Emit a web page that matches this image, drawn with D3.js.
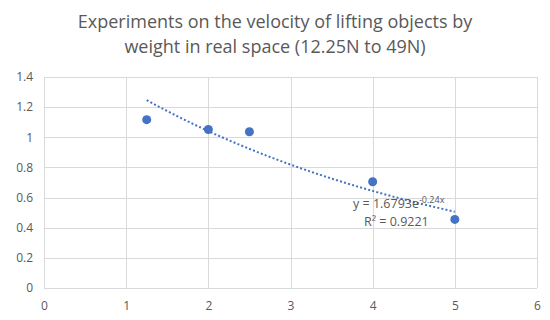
<!DOCTYPE html>
<html>
<head>
<meta charset="utf-8">
<script src="https://cdn.jsdelivr.net/npm/d3@7"></script>
<style>
  body { margin: 0; background: #fff; }
  text { font-family: "Open Sans", "Liberation Sans", sans-serif; fill: #595959; }
</style>
</head>
<body>
<div id="chart"></div>
<script>
// data
const weights = [1.25, 2, 2.5, 4, 5];
const velocities = [1.117, 1.052, 1.037, 0.705, 0.455];
const xTicks = [0, 1, 2, 3, 4, 5, 6];
const yTicks = [0, 0.2, 0.4, 0.6, 0.8, 1, 1.2, 1.4];
const titleLines = ["Experiments on the velocity of lifting objects by", "weight in real space (12.25N to 49N)"];
const trendLabel = { base: "y = 1.6793e", sup: "-0.24x", r2: "R² = 0.9221" };

const W = 550, H = 320;
const margin = { top: 77, right: 13, bottom: 32, left: 44 };
const width = W - margin.left - margin.right;
const height = H - margin.top - margin.bottom;

const svg = d3.select("#chart").append("svg")
    .attr("width", W)
    .attr("height", H);

// title
svg.append("g").selectAll("text")
    .data(titleLines)
    .enter().append("text")
    .attr("x", 275)
    .attr("y", (d, i) => 28 + i * 25)
    .attr("text-anchor", "middle")
    .style("font-size", "18px")
    .text(d => d);

const g = svg.append("g")
    .attr("transform", "translate(" + margin.left + "," + margin.top + ")");

const x = d3.scaleLinear().domain([0, 6]).range([0, width]);
const y = d3.scaleLinear().domain([0, 1.4]).range([height, 0]);

// gridlines
g.append("g").selectAll("line.h")
    .data(yTicks)
    .enter().append("line")
    .attr("x1", 0).attr("x2", width)
    .attr("y1", d => Math.round(y(d)) + 0.5).attr("y2", d => Math.round(y(d)) + 0.5)
    .attr("stroke", "#d9d9d9");
g.append("g").selectAll("line.v")
    .data(xTicks)
    .enter().append("line")
    .attr("y1", 0).attr("y2", height)
    .attr("x1", d => Math.round(x(d)) + 0.5).attr("x2", d => Math.round(x(d)) + 0.5)
    .attr("stroke", "#d9d9d9");

// axes (labels only)
const xAxis = g.append("g")
    .attr("transform", "translate(0," + height + ")")
    .call(d3.axisBottom(x).tickValues(xTicks).tickSize(0).tickPadding(13).tickFormat(d3.format("")));
const yAxis = g.append("g")
    .call(d3.axisLeft(y).tickValues(yTicks).tickSize(0).tickPadding(11).tickFormat(d3.format("")));
[xAxis, yAxis].forEach(a => {
    a.select(".domain").remove();
    a.selectAll("text").style("font-size", "12px").attr("fill", "#595959");
});

// exponential trendline fitted on ln(y)
const lx = weights, ly = velocities.map(Math.log);
const mx = d3.mean(lx), my = d3.mean(ly);
const b = d3.sum(lx, (v, i) => (v - mx) * (ly[i] - my)) / d3.sum(lx, v => (v - mx) * (v - mx));
const a = Math.exp(my - b * mx);
const xs = d3.range(0, 41).map(i => weights[0] + (weights[weights.length - 1] - weights[0]) * i / 40);
const line = d3.line().x(d => x(d)).y(d => y(a * Math.exp(b * d)));
g.append("path")
    .datum(xs)
    .attr("d", line)
    .attr("fill", "none")
    .attr("stroke", "#4472c4")
    .attr("stroke-width", 2)
    .attr("stroke-dasharray", "2,2.2");

// points
g.selectAll(".dot")
    .data(weights)
    .enter().append("circle")
    .attr("class", "dot")
    .attr("cx", d => x(d))
    .attr("cy", (d, i) => y(velocities[i]))
    .attr("r", 4.5)
    .attr("fill", "#4472c4");

// trendline label
const lab = svg.append("text")
    .attr("x", 353)
    .attr("y", 208)
    .style("font-size", "12.5px");
lab.append("tspan").text(trendLabel.base);
lab.append("tspan").attr("dy", -5).style("font-size", "9px").text(trendLabel.sup);
svg.append("text")
    .attr("x", 364)
    .attr("y", 226)
    .style("font-size", "12.5px")
    .text(trendLabel.r2);
</script>
</body>
</html>
